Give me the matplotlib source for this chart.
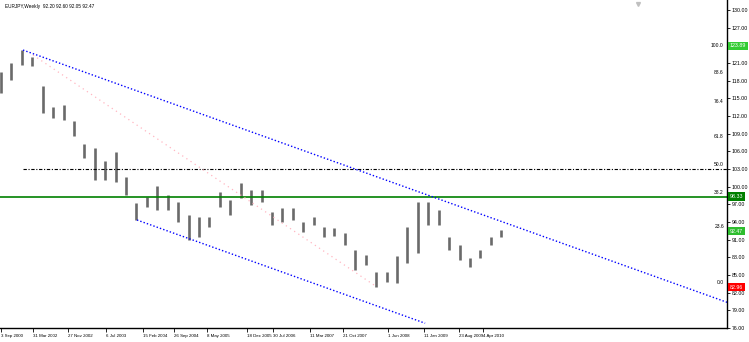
import numpy as np
import matplotlib
matplotlib.use('Agg')
import matplotlib.pyplot as plt
import matplotlib.transforms as mtransforms

# weekly bars, grouped (one group per ~10 px), prices
highs = [119.5, 121.0, 123.2, 122.0, 117.1, 113.5, 113.9, 111.2, 107.2, 106.6,
         104.4, 105.9, 101.6, 97.2, 98.2, 100.1, 98.6, 97.4, 95.2, 94.8,
         94.8, 99.1, 97.7, 100.6, 99.4, 99.4, 95.7, 96.4, 96.4, 94.0,
         94.8, 93.2, 93.0, 92.1, 89.2, 88.4, 85.5, 85.5, 88.2, 93.2,
         97.4, 97.4, 96.0, 91.5, 90.1, 87.9, 89.2, 91.5, 92.6]
lows = [115.9, 118.1, 120.7, 120.5, 112.5, 111.7, 111.3, 108.6, 104.9, 101.1,
        101.1, 100.8, 98.6, 94.3, 96.5, 96.0, 96.0, 94.0, 90.9, 91.5,
        93.2, 96.5, 95.2, 98.1, 96.9, 97.4, 93.5, 94.0, 94.3, 92.3,
        93.5, 91.5, 91.6, 90.1, 85.8, 86.7, 83.0, 83.8, 83.6, 87.0,
        88.7, 93.5, 93.5, 89.2, 87.5, 86.4, 87.9, 90.1, 91.5]

price_ticks = np.arange(130, 75, -3)
date_pos = [0, 3.1, 6.46, 10.08, 13.66, 16.6, 19.74, 23.58, 26.13, 29.65, 32.85,
            37.17, 40.62, 43.98, 46.29]
date_labels = ['3 Sep 2000', '31 Mar 2002', '27 Nov 2002', '6 Jul 2003', '15 Feb 2004',
               '26 Sep 2004', '8 May 2005', '18 Dec 2005', '30 Jul 2006', '11 Mar 2007',
               '21 Oct 2007', '1 Jun 2008', '11 Jan 2009', '23 Aug 2009', '4 Apr 2010']

# channel (two points on upper line, start of lower line)
chan_p1 = (2.11, 123.2)
chan_p2 = (69.3, 80.6)
chan_low_start = (13.05, 94.34)
chan_low_end_x = 40.7

# fibonacci retracement
fib_p1 = (3.07, 122.36)
fib_p2_x = 36.08
fib_high = 123.2
fib_low = 82.96
fib_levels = [100.0, 88.6, 76.4, 61.8, 50.0, 38.2, 23.6, 0.0]
hline_price = 98.33
last_price = 92.47
top_tag = 123.89

xmin, xmax = -0.096, 69.67
ymin, ymax = 76.0, 131.70
font = 'Liberation Sans'

fig = plt.figure(figsize=(7.49, 3.42), dpi=100)
fig.patch.set_facecolor('white')
ax = fig.add_axes([0, 14 / 342, 727 / 749, 328 / 342])
ax.set_xlim(xmin, xmax)
ax.set_ylim(ymin, ymax)

x = np.arange(len(highs))
ax.vlines(x, lows, highs, color='#6a6a6a', linewidth=1.9)

# horizontal line
ax.axhline(hline_price, color='#008000', linewidth=1.2)

# 50% fibo level dash dot
fib50 = fib_low + 0.5 * (fib_high - fib_low)
ax.plot([chan_p1[0], xmax], [fib50, fib50], color='black', linewidth=0.8,
        linestyle=(0, (3, 1.5, 1, 1.5)))
# fibo trend line
ax.plot([fib_p1[0], fib_p2_x], [fib_p1[1], fib_low], color='#ffb6c1', linewidth=0.9,
        linestyle=(0, (1, 3)))
for lv in fib_levels:
    p = fib_low + lv / 100 * (fib_high - fib_low)
    ax.text(xmax - 0.3, p + 0.3, '%.1f' % lv, ha='right', va='bottom', fontsize=3.6,
            family=font)

# channel
slope = (chan_p2[1] - chan_p1[1]) / (chan_p2[0] - chan_p1[0])
ax.plot([chan_p1[0], xmax], [chan_p1[1], chan_p1[1] + slope * (xmax - chan_p1[0])],
        color='#0000ff', linewidth=1.0, linestyle=(0, (1, 1.5)))
ax.plot([chan_low_start[0], chan_low_end_x],
        [chan_low_start[1], chan_low_start[1] + slope * (chan_low_end_x - chan_low_start[0])],
        color='#0000ff', linewidth=1.0, linestyle=(0, (1, 1.5)))

# chart shift marker
ax.plot([61.1], [131.1], marker='v', color='#c0c0c0', markersize=2.8, clip_on=False)

# axes look
for s in ['top', 'left']:
    ax.spines[s].set_visible(False)
ax.spines['right'].set_linewidth(1.0)
ax.spines['bottom'].set_linewidth(1.0)
ax.yaxis.tick_right()
ax.set_yticks(price_ticks)
ax.set_yticklabels(['%.2f' % v for v in price_ticks], fontsize=3.8, family=font)
ax.tick_params(axis='y', length=2, width=0.6, pad=1.2)
ax.set_xticks(date_pos)
ax.set_xticklabels(date_labels, fontsize=3.2, family=font, ha='left')
ax.tick_params(axis='x', length=3, width=0.6, pad=1)

# price tags on the right scale
trans = mtransforms.blended_transform_factory(ax.transAxes, ax.transData)
for val, col in [(top_tag, '#33cc33'), (hline_price, '#008000'),
                 (last_price, '#2ebd2e'), (fib_low, '#ff0000')]:
    ax.text(1.004, val, '%.2f' % val, transform=trans, fontsize=3.8, color='white',
            family=font, ha='left', va='center', clip_on=False,
            bbox=dict(boxstyle='square,pad=0.3', facecolor=col, edgecolor='none'))

fig.text(5 / 749, 1 - 4 / 342, 'EURJPY,Weekly  92.20 92.60 92.05 92.47', fontsize=3.4,
         family=font, va='top')

fig.savefig('out.png', dpi=100)
